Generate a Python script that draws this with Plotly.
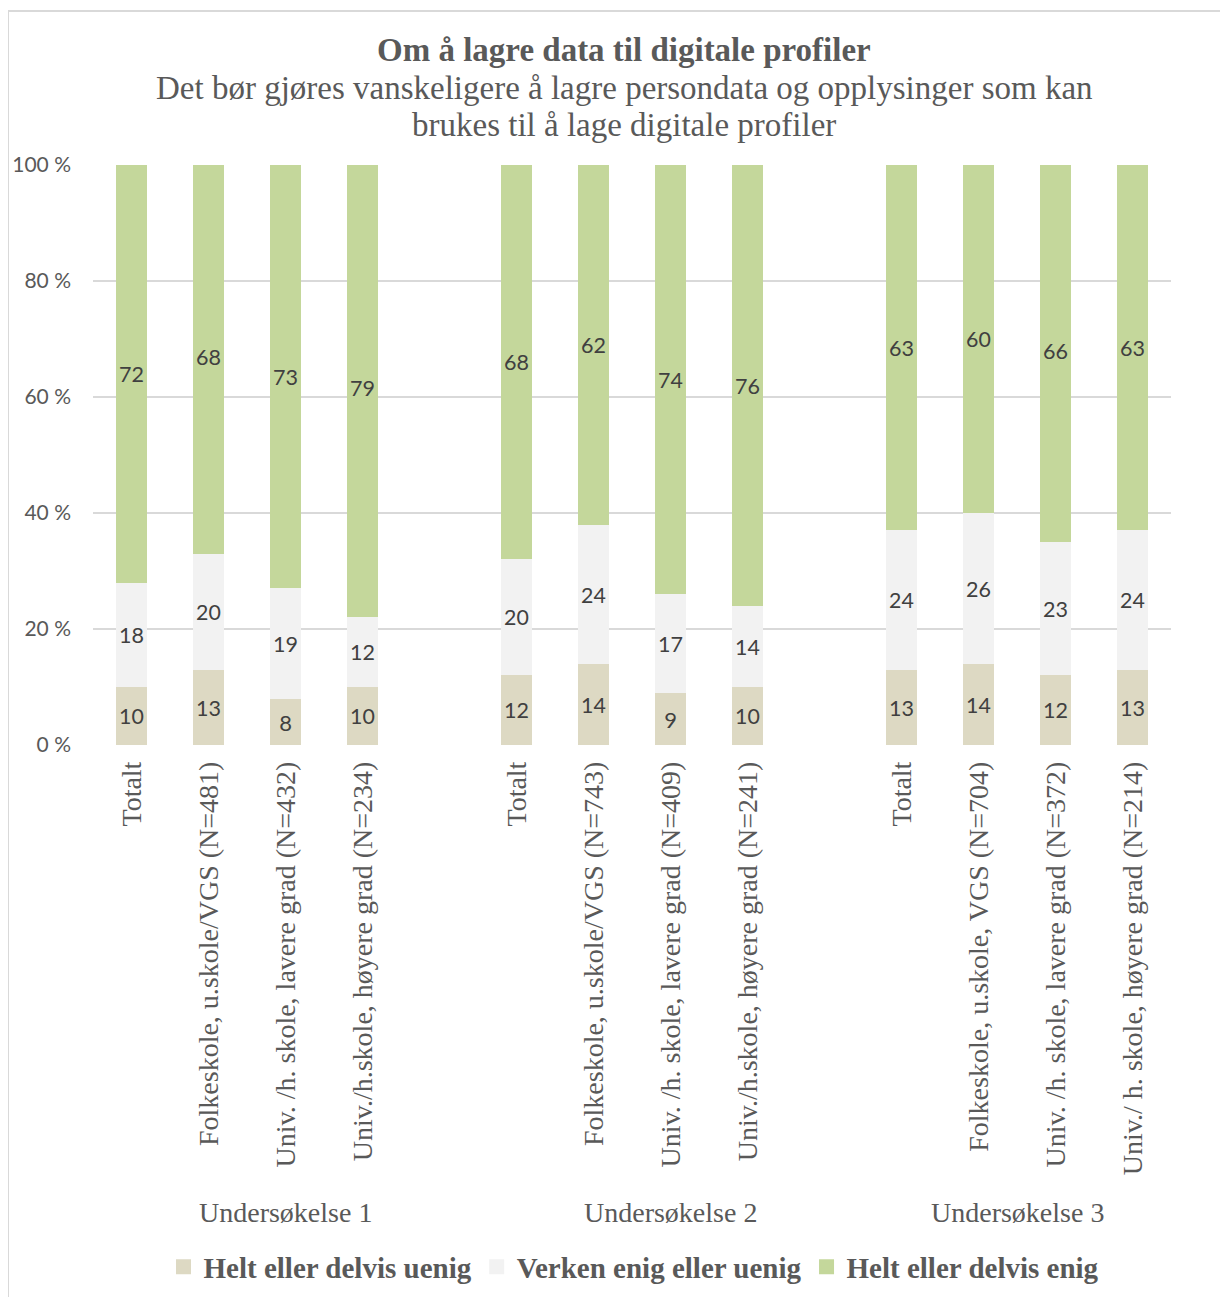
import plotly.graph_objects as go

# Data
groups = ["Undersøkelse 1", "Undersøkelse 2", "Undersøkelse 3"]
categories = [
    "Totalt", "Folkeskole, u.skole/VGS (N=481)", "Univ. /h. skole, lavere grad (N=432)", "Univ./h.skole, høyere grad (N=234)",
    "Totalt", "Folkeskole, u.skole/VGS (N=743)", "Univ. /h. skole, lavere grad (N=409)", "Univ./h.skole, høyere grad (N=241)",
    "Totalt", "Folkeskole, u.skole, VGS (N=704)", "Univ. /h. skole, lavere grad (N=372)", "Univ./ h. skole, høyere grad (N=214)",
]
x_positions = [0, 1, 2, 3, 5, 6, 7, 8, 10, 11, 12, 13]
group_label_x = [2, 7, 11.5]

uenig = [10, 13, 8, 10, 12, 14, 9, 10, 13, 14, 12, 13]
verken = [18, 20, 19, 12, 20, 24, 17, 14, 24, 26, 23, 24]
enig = [72, 68, 73, 79, 68, 62, 74, 76, 63, 60, 66, 63]

series_names = ["Helt eller delvis uenig", "Verken enig eller uenig", "Helt eller delvis enig"]
series_values = [uenig, verken, enig]
colors = ["#DDD9C3", "#F2F2F2", "#C4D79B"]

y_ticks = [0, 20, 40, 60, 80, 100]
y_ticktext = ["0 %", "20 %", "40 %", "60 %", "80 %", "100 %"]

serif = "Liberation Serif, Times New Roman, serif"
sans = "Lato, Carlito, Calibri, sans-serif"
text_col = "#595959"

# page offset (body margin of the html page)
OFF = 8
W, H = 1228 - OFF, 1305 - 2 * OFF
plot_left, plot_right = 93 - OFF, 1171 - OFF
plot_top, plot_bottom = 165 - OFF, 745 - OFF


def py(page_y):
    return (plot_bottom - (page_y - OFF)) / (plot_bottom - plot_top)


def px(page_x):
    return ((page_x - OFF) - plot_left) / (plot_right - plot_left)


fig = go.Figure()
for name, vals, col in zip(series_names, series_values, colors):
    fig.add_trace(go.Bar(
        x=x_positions, y=vals, name=name,
        marker=dict(color=col, line=dict(width=0)),
        width=0.4,
        text=[str(v) for v in vals],
        textposition="inside",
        insidetextanchor="middle",
        textangle=0,
        textfont=dict(family=sans, size=22, color="#404040"),
        showlegend=False,
    ))
# legend entries with larger square markers
for name, col in zip(series_names, colors):
    fig.add_trace(go.Scatter(
        x=[None], y=[None], mode="markers", name="<b>" + name + "</b>",
        marker=dict(symbol="square", size=15, color=col),
        showlegend=True,
    ))

title_x = px(624)
annotations = [
    dict(text="<b>Om å lagre data til digitale profiler</b>", x=title_x, xref="paper",
         y=py(50), yref="paper", showarrow=False, yanchor="middle",
         font=dict(family=serif, size=33, color=text_col)),
    dict(text="Det bør gjøres vanskeligere å lagre persondata og opplysinger som kan", x=title_x, xref="paper",
         y=py(88), yref="paper", showarrow=False, yanchor="middle",
         font=dict(family=serif, size=33, color=text_col)),
    dict(text="brukes til å lage digitale profiler", x=title_x, xref="paper",
         y=py(125), yref="paper", showarrow=False, yanchor="middle",
         font=dict(family=serif, size=33, color=text_col)),
]
for g, gx in zip(groups, group_label_x):
    annotations.append(dict(text=g, x=gx, xref="x", y=py(1212), yref="paper", showarrow=False,
                            yanchor="middle", font=dict(family=serif, size=28, color=text_col)))

fig.update_layout(
    barmode="stack",
    width=W, height=H,
    margin=dict(l=plot_left, r=W - plot_right, t=plot_top, b=H - plot_bottom, autoexpand=False),
    paper_bgcolor="white", plot_bgcolor="white",
    showlegend=True,
    legend=dict(orientation="h", x=px(634), xanchor="center", y=py(1267), yanchor="middle",
                font=dict(family=serif, size=29, color=text_col),
                itemwidth=30, traceorder="normal", itemclick=False, itemsizing="trace"),
    annotations=annotations,
    xaxis=dict(
        range=[-0.5, 13.5],
        tickmode="array", tickvals=x_positions, ticktext=categories,
        tickangle=-90,
        tickfont=dict(family=serif, size=28, color=text_col),
        showgrid=False, zeroline=False, showline=False, ticks="",
        ticklabelstandoff=10,
    ),
    yaxis=dict(
        range=[0, 100],
        tickmode="array", tickvals=y_ticks, ticktext=y_ticktext,
        tickfont=dict(family=sans, size=21, color=text_col),
        showgrid=True, gridcolor="#D9D9D9", gridwidth=2,
        zeroline=False, showline=False, ticks="",
        ticklabelstandoff=21,
    ),
    shapes=[
        dict(type="rect", xref="paper", yref="paper",
             x0=px(8), x1=px(1300),
             y0=py(1400), y1=py(11),
             line=dict(color="#D9D9D9", width=2), fillcolor="rgba(0,0,0,0)", layer="below"),
    ],
    bargap=0,
)

fig.write_html("out.html")
